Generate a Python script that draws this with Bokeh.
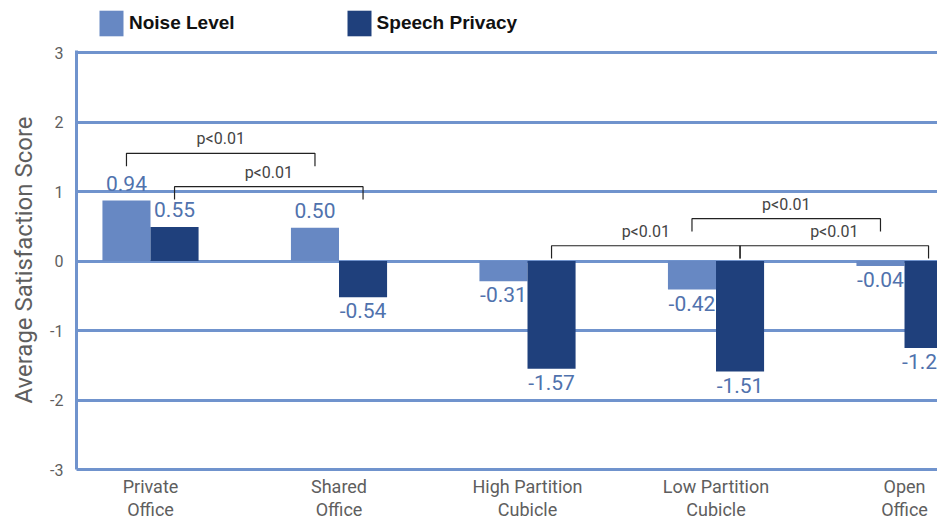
from bokeh.plotting import figure
from bokeh.layouts import column
from bokeh.models import ColumnDataSource, Legend, LegendItem, FixedTicker, Range1d
from bokeh.embed import file_html
from bokeh.resources import INLINE
from bokeh.core.properties import value

# ---------------- data ----------------
categories = ["Private\nOffice", "Shared\nOffice", "High Partition\nCubicle",
              "Low Partition\nCubicle", "Open\nOffice"]
series = ["Noise Level", "Speech Privacy"]
noise_bar = [0.87, 0.48, -0.29, -0.41, -0.07]
speech_bar = [0.49, -0.52, -1.55, -1.59, -1.25]
noise_labels = ["0.94", "0.50", "-0.31", "-0.42", "-0.04"]
speech_labels = ["0.55", "-0.54", "-1.57", "-1.51", "-1.2"]
y_ticks = [-3, -2, -1, 0, 1, 2, 3]
# significance brackets: (category a, category b, series index, level)
brackets = [(0, 1, 0, 1.55), (0, 1, 1, 1.07), (2, 3, 1, 0.22),
            (3, 4, 1, 0.22), (3, 4, 0, 0.61)]
bracket_text = "p<0.01"

# ---------------- style ----------------
LIGHT = "#6788c3"
DARK = "#1f407c"
GRID = "#7093cd"
LABEL_BLUE = "#5072ad"
GRAY = "#5e5e5e"
FONT = value("Roboto")
X_START, X_END = -0.3926, 4.175
BW = 0.255
DROP = 0.185
W = 937
LEG_H = 44

offsets = [-BW / 2, BW / 2]
values = [noise_bar, speech_bar]
labels = [noise_labels, speech_labels]
colors = [LIGHT, DARK]

p = figure(width=W, height=523 - LEG_H,
           x_range=Range1d(X_START, X_END), y_range=Range1d(-3.0, 3.03),
           output_backend="svg", toolbar_location=None,
           min_border_left=76, min_border_right=0,
           min_border_top=6, min_border_bottom=50)
p.outline_line_color = None
p.background_fill_color = "white"
p.border_fill_color = "white"

p.xgrid.visible = False
p.ygrid.ticker = FixedTicker(ticks=y_ticks)
p.ygrid.grid_line_color = GRID
p.ygrid.grid_line_width = 3

ya = p.yaxis[0]
ya.ticker = FixedTicker(ticks=y_ticks)
ya.major_label_overrides = {t: str(t) for t in y_ticks}
ya.axis_line_color = GRID
ya.axis_line_width = 3
ya.major_tick_line_color = None
ya.minor_tick_line_color = None
ya.major_tick_out = 0
ya.major_tick_in = 0
ya.minor_tick_out = 0
ya.major_label_text_font = "Roboto"
ya.major_label_text_font_size = "16px"
ya.major_label_text_color = GRAY
ya.major_label_standoff = 13
ya.axis_label = "Average Satisfaction Score"
ya.axis_label_text_font = "Roboto"
ya.axis_label_text_font_size = "24px"
ya.axis_label_text_font_style = "normal"
ya.axis_label_text_color = GRAY
ya.axis_label_standoff = 9

xa = p.xaxis[0]
xa.ticker = FixedTicker(ticks=list(range(len(categories))))
xa.major_label_overrides = {i: c for i, c in enumerate(categories)}
xa.axis_line_color = GRID
xa.axis_line_width = 3
xa.major_tick_line_color = None
xa.minor_tick_line_color = None
xa.major_tick_out = 0
xa.major_tick_in = 0
xa.minor_tick_out = 0
xa.major_label_text_font = "Roboto"
xa.major_label_text_font_size = "18px"
xa.major_label_text_color = GRAY
xa.major_label_text_line_height = 1.14
xa.major_label_standoff = 6

centers = []
sources = []
for s in range(2):
    xs = [i + offsets[s] for i in range(len(categories))]
    centers.append(xs)
    src = ColumnDataSource(dict(x=xs, top=values[s]))
    sources.append(src)
    p.vbar(x="x", top="top", bottom=0, width=BW, source=src,
           fill_color=colors[s], line_color=None)

# value labels
pos = dict(x=[], y=[], t=[])
neg = dict(x=[], y=[], t=[])
for s in range(2):
    for i, v in enumerate(values[s]):
        x = min(centers[s][i], X_END - 0.095)
        d = pos if v >= 0 else neg
        d["x"].append(x)
        d["y"].append(v)
        d["t"].append(labels[s][i])
p.text(x="x", y="y", text="t", source=ColumnDataSource(pos), text_font=FONT,
       text_font_size="21px", text_color=LABEL_BLUE, text_align="center",
       text_baseline="bottom", y_offset=-10)
p.text(x="x", y="y", text="t", source=ColumnDataSource(neg), text_font=FONT,
       text_font_size="21px", text_color=LABEL_BLUE, text_align="center",
       text_baseline="top", y_offset=6)

# significance brackets
bxs, bys, tx, ty = [], [], [], []
for a, b, s, lvl in brackets:
    xa_, xb_ = centers[s][a], centers[s][b]
    bxs.append([xa_, xa_, xb_, xb_])
    bys.append([lvl - DROP, lvl, lvl, lvl - DROP])
    tx.append((xa_ + xb_) / 2)
    ty.append(lvl)
p.multi_line(xs=bxs, ys=bys, line_color="#222222", line_width=1.2)
p.text(x=tx, y=ty, text=[bracket_text] * len(tx), text_font=FONT,
       text_font_size="16px", text_color="#444444", text_align="center",
       text_baseline="bottom", y_offset=-5)

# ---------------- legend strip (frame aligned with the chart frame) ----------------
pl = figure(width=W, height=LEG_H, x_range=Range1d(X_START, X_END),
            y_range=Range1d(10, 11),  # series bars lie outside this strip's view
            output_backend="svg", toolbar_location=None, min_border=0,
            min_border_left=76, min_border_right=0)
pl.axis.visible = False
pl.grid.visible = False
pl.outline_line_color = None
pl.border_fill_color = "white"
pl.background_fill_color = "white"
leg_r = [pl.vbar(x="x", top="top", bottom=0, width=BW, source=sources[s],
                 fill_color=colors[s], line_color=None) for s in range(2)]
legend = Legend(items=[LegendItem(label=series[s], renderers=[leg_r[s]]) for s in range(2)],
                location=(20, 5), orientation="horizontal",
                glyph_width=30, glyph_height=32, label_standoff=3, spacing=109,
                padding=0, margin=0,
                label_text_font="Liberation Sans", label_text_font_style="bold",
                label_text_font_size="19px", label_text_color="#111111",
                background_fill_alpha=0, border_line_alpha=0)
pl.add_layout(legend, "center")

layout = column(pl, p, spacing=0)
open("out.html", "w").write(file_html(layout, INLINE))
